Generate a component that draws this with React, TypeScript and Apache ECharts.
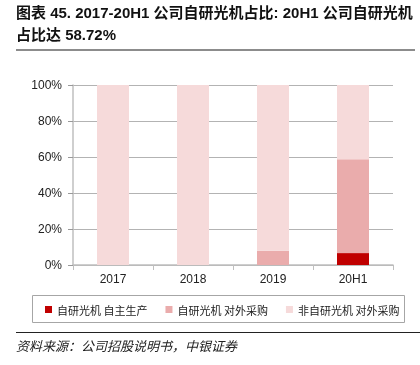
import React, { useEffect, useRef } from "react";
import * as echarts from "echarts";

const categories = ["2017", "2018", "2019", "20H1"];
const seriesNames = ["自研光机 自主生产", "自研光机 对外采购", "非自研光机 对外采购"];
const selfProduced = [0, 0, 0, 6.6];
const selfPurchased = [0, 0, 7.9, 52.12];
const otherPurchased = [100, 100, 92.1, 41.28];
const yTicks = [0, 20, 40, 60, 80, 100];
const colors = ["#c00000", "#eaacac", "#f6dada"];

const titleLine1 = "图表 45. 2017-20H1 公司自研光机占比: 20H1 公司自研光机";
const titleLine2 = "占比达 58.72%";
const sourceText = "资料来源：公司招股说明书，中银证券";

const FONT = "'Liberation Sans', 'Noto Sans CJK SC', sans-serif";

export default function App() {
  const ref = useRef<HTMLDivElement>(null);
  useEffect(() => {
    const chart = echarts.init(ref.current!, null, { renderer: "svg" });
    const data = [selfProduced, selfPurchased, otherPurchased];
    chart.setOption({
      animation: false,
      textStyle: { fontFamily: FONT },
      grid: { left: 73, right: 27, top: 85, bottom: 100 },
      xAxis: {
        type: "category",
        data: categories,
        axisLine: { lineStyle: { color: "#bfbfbf", width: 1.5 } },
        axisTick: { show: true, length: 5, lineStyle: { color: "#bfbfbf" } },
        axisLabel: { color: "#222", fontSize: 12, margin: 8, fontFamily: FONT },
      },
      yAxis: {
        type: "value",
        min: yTicks[0],
        max: yTicks[yTicks.length - 1],
        interval: 20,
        axisLine: { show: true, lineStyle: { color: "#bfbfbf", width: 1.5 } },
        axisTick: { show: true, length: 5, lineStyle: { color: "#999" } },
        axisLabel: { color: "#222", fontSize: 12, margin: 11, formatter: "{value}%", fontFamily: FONT },
        splitLine: { show: true, lineStyle: { color: "#b3b3b3", width: 1 } },
      },
      legend: {
        data: seriesNames,
        left: 45,
        top: 304,
        padding: 0,
        itemWidth: 7,
        itemHeight: 7,
        itemGap: 18,
        icon: "rect",
        textStyle: { fontSize: 11, color: "#222", fontFamily: "'Noto Sans CJK SC', sans-serif" },
      },
      series: seriesNames.map((name, i) => ({
        name,
        type: "bar",
        stack: "total",
        barWidth: "40%",
        data: data[i],
        itemStyle: { color: colors[i] },
      })),
      graphic: [
        {
          type: "text",
          left: 16,
          top: 5,
          style: { text: titleLine1, fontSize: 15, fontWeight: "bold", fill: "#111", fontFamily: FONT },
        },
        {
          type: "text",
          left: 16,
          top: 27,
          style: { text: titleLine2, fontSize: 15, fontWeight: "bold", fill: "#111", fontFamily: FONT },
        },
        {
          type: "line",
          shape: { x1: 16, y1: 50, x2: 415, y2: 50 },
          style: { stroke: "#8c8c8c", lineWidth: 2 },
        },
        {
          type: "rect",
          shape: { x: 32.5, y: 295.5, width: 372, height: 27 },
          style: { fill: "none", stroke: "#a6a6a6", lineWidth: 1 },
        },
        {
          type: "line",
          shape: { x1: 16, y1: 332.5, x2: 420, y2: 332.5 },
          style: { stroke: "#222", lineWidth: 1 },
        },
        {
          type: "text",
          left: 16,
          top: 339,
          style: { text: sourceText, fontSize: 13, fontStyle: "italic", fill: "#222", fontFamily: "'Noto Sans CJK SC', sans-serif" },
        },
      ],
    });
    return () => chart.dispose();
  }, []);
  return <div ref={ref} style={{ position: "fixed", left: 0, top: 0, width: 420, height: 365 }} />;
}
